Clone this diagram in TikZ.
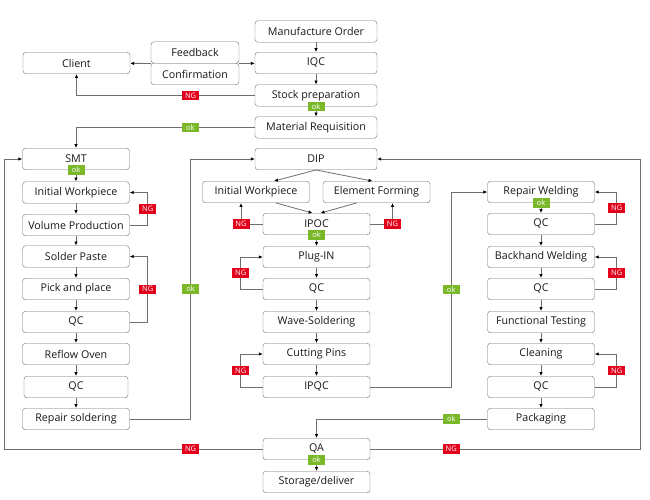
\documentclass[tikz,border=0pt]{standalone}
\usepackage{fontspec}
\setmainfont{Open Sans}
\usetikzlibrary{arrows.meta}
\definecolor{ngred}{HTML}{E2001A}
\definecolor{okgreen}{HTML}{7AB829}
\definecolor{edge}{HTML}{6E6E6E}

\begin{document}
\begin{tikzpicture}[x=1pt,y=-1pt,
		box/.style={draw=edge,fill=white,rounded corners=3pt,minimum width=107pt,minimum height=21.5pt,inner sep=0pt,text=black!90,font=\fontsize{10.7}{11}\selectfont},
		wide/.style={box,minimum width=122pt},
		ng/.style={fill=ngred,text=white,inner sep=0pt,minimum width=17pt,minimum height=9.5pt,font=\fontsize{7.5}{7.5}\selectfont},
		ok/.style={ng,fill=okgreen},
		arr/.style={draw=edge,line width=0.8pt,-{Latex[length=4pt,width=3.5pt,black]}}]
				\useasboundingbox (0,0) rectangle (650,499);
				
				% order handling
				\node[wide] (mo) at (316,31.5) {Manufacture Order};
				\node[wide] (iqc) at (316,63) {IQC};
				\node[wide] (stock) at (316,95.5) {Stock preparation};
				\node[wide] (mr) at (316,127.5) {Material Requisition};
				\node[box] (client) at (76.5,63) {Client};
				\node[box,minimum width=88pt] (fb) at (195,52.5) {Feedback};
				\node[box,minimum width=88pt] (conf) at (195,74) {Confirmation};
				
				% SMT line
				\node[box] (smt) at (76,159) {SMT};
				\node[box] (iw) at (76,192.5) {Initial Workpiece};
				\node[box] (vp) at (76,225) {Volume Production};
				\node[box] (sp) at (76,256.5) {Solder Paste};
				\node[box] (pp) at (76,289) {Pick and place};
				\node[box] (qca) at (76,322) {QC};
				\node[box] (ro) at (76,354) {Reflow Oven};
				\node[box,minimum width=104pt] (qcb) at (76,387) {QC};
				\node[box] (rs) at (76,419) {Repair soldering};
				
				% DIP line
				\node[wide] (dip) at (316,159) {DIP};
				\node[box] (iwm) at (256,192) {Initial Workpiece};
				\node[box] (ef) at (376.5,192) {Element Forming};
				\node[box] (ipoc) at (316.5,224) {IPOC};
				\node[box] (plug) at (316.5,257) {Plug-IN};
				\node[box] (qcm) at (316.5,289) {QC};
				\node[box] (wave) at (316.5,322) {Wave-Soldering};
				\node[box] (cut) at (316.5,354) {Cutting Pins};
				\node[box] (ipqc) at (316.5,387) {IPQC};
				\node[box] (qa) at (316.5,449) {QA};
				\node[box] (store) at (316.5,482) {Storage/deliver};
				
				% welding and testing
				\node[box] (rw) at (541,192) {Repair Welding};
				\node[box] (rqa) at (541,224) {QC};
				\node[box] (bw) at (541,257) {Backhand Welding};
				\node[box] (rqb) at (541,289) {QC};
				\node[box] (ft) at (541,322) {Functional Testing};
				\node[box] (clean) at (541,354) {Cleaning};
				\node[box] (rqc) at (541,387) {QC};
				\node[box] (pack) at (541,419) {Packaging};
				
				\draw[arr] (mo) to (iqc);
				\draw[arr] (iqc) to (stock);
				\draw[arr] (stock) to node[ok,pos=0]{ok} (mr);
				\draw[arr] (fb.south west) to (client);
				\draw[arr] (fb.south east) to (iqc);
				\draw[arr] (stock) -| node[ng,pos=0.18]{NG} (client);
				\draw[arr] (mr) -| node[ok,pos=0.18]{ok} (smt);
				
				\draw[arr] (smt) to node[ok,pos=0]{ok} (iw);
				\draw[arr] (iw) to (vp);
				\draw[arr] (vp) to (sp);
				\draw[arr] (sp) to (pp);
				\draw[arr] (pp) to (qca);
				\draw[arr] (qca) to (ro);
				\draw[arr] (ro) to (qcb);
				\draw[arr] (qcb) to (rs);
				\draw[arr] (vp.east) -- ++(18,0) |- node[ng,pos=0.25]{NG} (iw.east);
				\draw[arr] (qca.east) -- ++(18,0) |- node[ng,pos=0.25]{NG} (sp.east);
				\draw[arr] (rs.east) -- ++(61,0) |- node[ok,pos=0.25]{ok} (dip.west);
				
				\draw[arr] (dip.south) to ([xshift=18pt]iwm.north);
				\draw[arr] (dip.south) to ([xshift=-4pt]ef.north);
				\draw[arr] ([xshift=20pt]iwm.south) to ([xshift=-4pt]ipoc.north);
				\draw[arr] ([xshift=-20pt]ef.south) to ([xshift=4pt]ipoc.north);
				\draw[arr] (ipoc.west) -| node[ng,pos=0.5]{NG} ([xshift=-15pt]iwm.south);
				\draw[arr] (ipoc.east) -| node[ng,pos=0.5]{NG} ([xshift=16pt]ef.south);
				\draw[arr] (ipoc) to node[ok,pos=0]{ok} (plug);
				\draw[arr] (plug) to (qcm);
				\draw[arr] (qcm) to (wave);
				\draw[arr] (wave) to (cut);
				\draw[arr] (cut) to (ipqc);
				\draw[arr] (qcm.west) -- ++(-22,0) |- node[ng,pos=0.25]{NG} (plug.west);
				\draw[arr] (ipqc.west) -- ++(-22,0) |- node[ng,pos=0.25]{NG} (cut.west);
				\draw[arr] (ipqc.east) -- ++(81,0) |- node[ok,pos=0.25]{ok} (rw.west);
				
				\draw[arr] (rw) to node[ok,pos=0]{ok} (rqa);
				\draw[arr] (rqa) to (bw);
				\draw[arr] (bw) to (rqb);
				\draw[arr] (rqb) to (ft);
				\draw[arr] (ft) to (clean);
				\draw[arr] (clean) to (rqc);
				\draw[arr] (rqc) to (pack);
				\draw[arr] (rqa.east) -- ++(22,0) |- node[ng,pos=0.25]{NG} (rw.east);
				\draw[arr] (rqb.east) -- ++(22,0) |- node[ng,pos=0.25]{NG} (bw.east);
				\draw[arr] (rqc.east) -- ++(22,0) |- node[ng,pos=0.25]{NG} (clean.east);
				\draw[arr] (pack) -| node[ok,pos=0.105]{ok} (qa);
				
				\draw[arr] (qa) to node[ok,pos=0]{ok} (store);
				\draw[arr] (qa.west) -- node[ng,pos=0.28]{NG} ++(-258,0) |- (smt.west);
				\draw[arr] (qa.east) -- node[ng,pos=0.3]{NG} ++(270,0) |- (dip.east);
				
			\end{tikzpicture}
\end{document}
